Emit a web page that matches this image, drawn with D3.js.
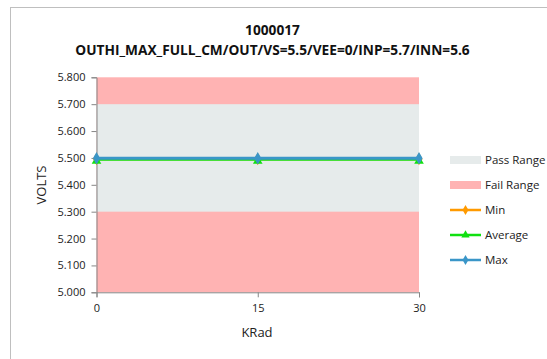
<!DOCTYPE html>
<html><head><meta charset="utf-8">
<script src="https://cdn.jsdelivr.net/npm/d3@7"></script>
<style>body{margin:0;background:#fff}svg{display:block}</style>
</head><body>
<svg id="c" width="547" height="359"></svg>
<script>
const kradValues = [0, 15, 30];
const minValues = [5.496, 5.496, 5.496];
const avgValues = [5.494, 5.494, 5.494];
const maxValues = [5.499, 5.499, 5.499];
const passRange = [5.3, 5.7];
const yDomain = [5.0, 5.8];
const yTicks = [5.0, 5.1, 5.2, 5.3, 5.4, 5.5, 5.6, 5.7, 5.8];
const xTicks = [0, 15, 30];
const titleLines = ["1000017", "OUTHI_MAX_FULL_CM/OUT/VS=5.5/VEE=0/INP=5.7/INN=5.6"];
const legendNames = ["Pass Range", "Fail Range", "Min", "Average", "Max"];

const svg = d3.select("#c");
const font = "'Open Sans', sans-serif";
svg.append("rect").attr("x", 10.5).attr("y", 7.5).attr("width", 600).attr("height", 400)
  .attr("fill", "#fff").attr("stroke", "#bfbfbf").attr("stroke-width", 1);

const L = 96.5, R = 419, T = 77.3, B = 292.3;
const x = d3.scaleLinear().domain([0, 30]).range([L, R]);
const y = d3.scaleLinear().domain(yDomain).range([B, T]);

const failColor = "#ffb3b3", passColor = "#e6ebeb";
svg.append("rect").attr("x", L).attr("y", y(yDomain[1])).attr("width", R - L).attr("height", y(yDomain[0]) - y(yDomain[1])).attr("fill", failColor);
svg.append("rect").attr("x", L).attr("y", y(passRange[1])).attr("width", R - L).attr("height", y(passRange[0]) - y(passRange[1])).attr("fill", passColor);

// axes
const ya = svg.append("g").attr("transform", `translate(${L},0)`)
  .call(d3.axisLeft(y).tickValues(yTicks).tickFormat(d3.format(".3f")).tickSize(5).tickPadding(6));
const xa = svg.append("g").attr("transform", `translate(0,${B})`)
  .call(d3.axisBottom(x).tickValues(xTicks).tickFormat(d3.format("d")).tickSize(5).tickPadding(7));
[ya, xa].forEach(g => {
  g.selectAll("path,line").attr("stroke", "#868686");
  g.selectAll("text").attr("font-family", font).attr("font-size", 11).attr("fill", "#222");
});

// series
const series = [
  {name: "Min", vals: minValues, color: "#ff9a00", marker: "diamond", w: 2.5},
  {name: "Average", vals: avgValues, color: "#10e010", marker: "triangle", w: 2.5},
  {name: "Max", vals: maxValues, color: "#3a96c8", marker: "diamond", w: 3}
];
const line = d3.line().x((d, i) => x(kradValues[i])).y(d => y(d));
const sym = {diamond: d3.symbolDiamond, triangle: d3.symbolTriangle};
series.forEach(s => {
  svg.append("path").datum(s.vals).attr("d", line).attr("fill", "none").attr("stroke", s.color).attr("stroke-width", s.w);
  svg.selectAll(null).data(s.vals).enter().append("path")
    .attr("d", d3.symbol(sym[s.marker], s.marker === "diamond" ? 45 : 40))
    .attr("transform", (d, i) => `translate(${x(kradValues[i])},${y(d) + (s.marker === "triangle" ? 1.5 : 0)})`)
    .attr("fill", s.color);
});

// titles
svg.selectAll(".t").data(titleLines).enter().append("text")
  .attr("x", 272.5).attr("y", (d, i) => 34.5 + i * 20).attr("text-anchor", "middle")
  .attr("font-family", font).attr("font-weight", "bold").attr("font-size", 13.7).attr("fill", "#111")
  .text(d => d);
svg.append("text").attr("transform", "translate(46,185) rotate(-90)").attr("text-anchor", "middle")
  .attr("font-family", font).attr("font-size", 13).attr("fill", "#222").text("VOLTS");
svg.append("text").attr("x", 257).attr("y", 337).attr("text-anchor", "middle")
  .attr("font-family", font).attr("font-size", 13).attr("fill", "#222").text("KRad");

// legend
const lg = svg.append("g");
legendNames.forEach((n, i) => {
  const cy = 160 + i * 25;
  if (i < 2) {
    lg.append("rect").attr("x", 450).attr("y", cy - 4).attr("width", 31).attr("height", 8).attr("fill", i === 0 ? passColor : failColor);
  } else {
    const s = series[i - 2];
    lg.append("line").attr("x1", 450).attr("x2", 481).attr("y1", cy).attr("y2", cy).attr("stroke", s.color).attr("stroke-width", 2.5);
    lg.append("path").attr("d", d3.symbol(sym[s.marker], 30)).attr("transform", `translate(465.5,${cy})`).attr("fill", s.color);
  }
  lg.append("text").attr("x", 485).attr("y", cy + 4).attr("font-family", font).attr("font-size", 11.5).attr("fill", "#222").text(n);
});
</script>
</body></html>
